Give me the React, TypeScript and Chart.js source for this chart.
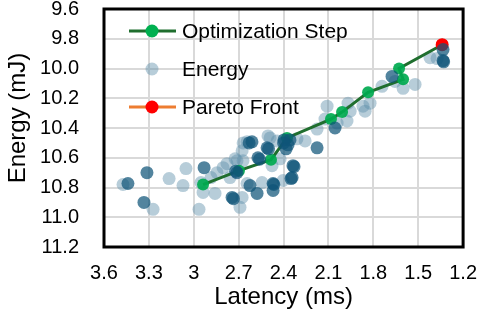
import React, { useEffect, useRef } from "react";
import { Chart, registerables } from "chart.js";

Chart.register(...registerables);

// ---- data ----
const xTicks = [3.6, 3.3, 3.0, 2.7, 2.4, 2.1, 1.8, 1.5, 1.2];
const xTickLabels = ["3.6", "3.3", "3", "2.7", "2.4", "2.1", "1.8", "1.5", "1.2"];
const yTicks = [9.6, 9.8, 10.0, 10.2, 10.4, 10.6, 10.8, 11.0, 11.2];

// light "Energy" samples (latency ms, energy mJ)
const energyLatency = [3.473, 3.272, 3.165, 3.052, 3.072, 2.965, 2.952, 2.938, 2.858, 2.885, 2.644, 2.677, 2.671, 2.724, 2.804, 2.845, 2.758, 2.644, 2.544, 2.677, 2.691, 2.403, 2.423, 2.443, 2.49, 2.256, 2.176, 2.123, 2.109, 2.042, 1.969, 1.955, 1.976, 1.869, 1.855, 1.822, 1.742, 1.655, 1.601, 1.521, 1.421, 1.374, 2.778, 2.711, 2.477, 2.31, 2.67, 2.504];
const energyValue = [10.78, 10.947, 10.74, 10.673, 10.787, 10.947, 10.767, 10.833, 10.84, 10.733, 10.493, 10.553, 10.62, 10.607, 10.667, 10.7, 10.733, 10.773, 10.767, 10.867, 10.933, 10.753, 10.607, 10.487, 10.467, 10.487, 10.407, 10.34, 10.253, 10.367, 10.233, 10.287, 10.353, 10.253, 10.287, 10.233, 10.12, 10.087, 10.133, 10.107, 9.927, 9.933, 10.64, 10.62, 10.653, 10.473, 10.5, 10.453];

// repeated (darker) Energy samples
const repeatLatency = [3.44, 3.313, 3.333, 2.931, 2.624, 2.577, 2.47, 2.176, 2.056, 1.675, 1.334, 2.711, 2.72, 2.744, 2.735, 2.611, 2.63, 2.571, 2.56, 2.51, 2.5, 2.47, 2.465, 2.397, 2.37, 2.357, 2.383, 2.4, 2.337, 2.33, 2.343, 2.35, 1.334, 1.33];
const repeatValue = [10.773, 10.7, 10.9, 10.667, 10.787, 10.84, 10.82, 10.533, 10.4, 10.053, 9.873, 10.7, 10.69, 10.867, 10.875, 10.493, 10.5, 10.6, 10.61, 10.533, 10.54, 10.773, 10.78, 10.48, 10.513, 10.48, 10.54, 10.5, 10.653, 10.66, 10.733, 10.74, 9.947, 9.955];

// optimization steps
const stepLatency = [2.938, 2.698, 2.484, 2.377, 2.083, 2.009, 1.835, 1.601, 1.628, 1.34];
const stepEnergy = [10.78, 10.687, 10.613, 10.467, 10.34, 10.293, 10.16, 10.073, 10.0, 9.84];

// pareto front
const paretoLatency = [1.34];
const paretoEnergy = [9.84];

const FONT = "'Liberation Sans', Arial, sans-serif";

const toPts = (xs: number[], ys: number[]) => xs.map((x, i) => ({ x, y: ys[i] }));

const boxPlugin = {
  id: "boxPlugin",
  afterDatasetsDraw(chart: any) {
    const { ctx, chartArea } = chart;
    ctx.save();
    ctx.strokeStyle = "#000";
    ctx.lineWidth = 3;
    ctx.strokeRect(chartArea.left, chartArea.top, chartArea.right - chartArea.left, chartArea.bottom - chartArea.top);
    ctx.restore();
  },
};

const legendPlugin = {
  id: "insideLegend",
  afterDraw(chart: any) {
    const { ctx, chartArea } = chart;
    const items = chart.data.datasets.filter((d: any) => d.inLegend);
    ctx.save();
    items.forEach((d: any, i: number) => {
      const y = chartArea.top + 22 + i * 38;
      const x0 = chartArea.left + 25;
      const x1 = chartArea.left + 72;
      const mx = chartArea.left + 48;
      if (d.showLine) {
        ctx.strokeStyle = d.borderColor;
        ctx.lineWidth = 3;
        ctx.beginPath();
        ctx.moveTo(x0, y);
        ctx.lineTo(x1, y);
        ctx.stroke();
      }
      ctx.fillStyle = d.legendMarker || d.pointBackgroundColor;
      ctx.beginPath();
      ctx.arc(mx, y, 6.5, 0, Math.PI * 2);
      ctx.fill();
      ctx.fillStyle = "#000";
      ctx.font = `21px ${FONT}`;
      ctx.textBaseline = "middle";
      ctx.textAlign = "left";
      ctx.fillText(d.label, chartArea.left + 78, y + 1);
    });
    ctx.restore();
  },
};

export default function App() {
  const ref = useRef<HTMLCanvasElement | null>(null);

  useEffect(() => {
    if (!ref.current) return;
    const chart = new Chart(ref.current, {
      type: "scatter",
      data: {
        datasets: [
          {
            label: "Optimization Step",
            data: toPts(stepLatency, stepEnergy),
            showLine: true,
            borderColor: "#1f6e2e",
            borderWidth: 3,
            pointBackgroundColor: "rgba(0,170,80,0.92)",
            pointBorderWidth: 0,
            pointRadius: 6,
            legendMarker: "#00b050",
            inLegend: true,
            order: 2,
          } as any,
          {
            label: "Energy",
            data: toPts(energyLatency, energyValue),
            backgroundColor: "rgba(95,145,170,0.45)",
            pointBackgroundColor: "rgba(95,145,170,0.45)",
            borderWidth: 0,
            pointRadius: 6.5,
            legendMarker: "rgba(95,145,170,0.45)",
            inLegend: true,
            order: 4,
          } as any,
          {
            label: "Pareto Front",
            data: toPts(paretoLatency, paretoEnergy),
            showLine: true,
            borderColor: "#ed7d31",
            borderWidth: 3,
            pointBackgroundColor: "#ff0000",
            pointBorderWidth: 0,
            pointRadius: 6.5,
            inLegend: true,
            order: 1,
          } as any,
          {
            label: "Energy (repeated)",
            data: toPts(repeatLatency, repeatValue),
            backgroundColor: "rgba(15,85,120,0.72)",
            pointBackgroundColor: "rgba(15,85,120,0.72)",
            borderWidth: 0,
            pointRadius: 6.5,
            inLegend: false,
            order: 0,
          } as any,
        ],
      },
      options: {
        responsive: false,
        animation: false,
        devicePixelRatio: 1,
        layout: { padding: { left: 0, right: 15, top: 0, bottom: 0 } },
        plugins: { legend: { display: false }, tooltip: { enabled: false } },
        scales: {
          x: {
            type: "linear",
            reverse: true,
            min: 1.2,
            max: 3.6,
            afterBuildTicks: (s: any) => {
              s.ticks = xTicks.map((v) => ({ value: v }));
            },
            afterFit: (s: any) => {
              s.height = 69;
            },
            ticks: {
              padding: 14,
              color: "#000",
              font: { family: FONT, size: 20 },
              callback: (_v: any, i: number) => xTickLabels[i],
              maxRotation: 0,
              autoSkip: false,
            },
            grid: { color: "#d9d9d9", lineWidth: 2, drawTicks: false },
            border: { display: false },
            title: {
              display: true,
              text: "Latency (ms)",
              color: "#000",
              font: { family: FONT, size: 24 },
              padding: { top: 0, bottom: 4 },
            },
          },
          y: {
            type: "linear",
            reverse: true,
            min: 9.6,
            max: 11.2,
            afterBuildTicks: (s: any) => {
              s.ticks = yTicks.map((v) => ({ value: v }));
            },
            afterFit: (s: any) => {
              s.width = 104;
            },
            ticks: {
              padding: 25,
              color: "#000",
              font: { family: FONT, size: 20 },
              callback: (v: any) => Number(v).toFixed(1),
              autoSkip: false,
            },
            grid: { color: "#d9d9d9", lineWidth: 2, drawTicks: false },
            border: { display: false },
            title: {
              display: true,
              text: "   Energy (mJ)",
              color: "#000",
              font: { family: FONT, size: 24 },
              padding: { top: 4, bottom: 0 },
            },
          },
        },
      },
      plugins: [boxPlugin, legendPlugin],
    } as any);
    return () => chart.destroy();
  }, []);

  return (
    <div style={{ position: "fixed", left: 0, top: -28, width: 491, height: 344, overflow: "hidden" }}>
      <canvas ref={ref} width={491} height={344} style={{ width: 491, height: 344, display: "block" }} />
    </div>
  );
}
